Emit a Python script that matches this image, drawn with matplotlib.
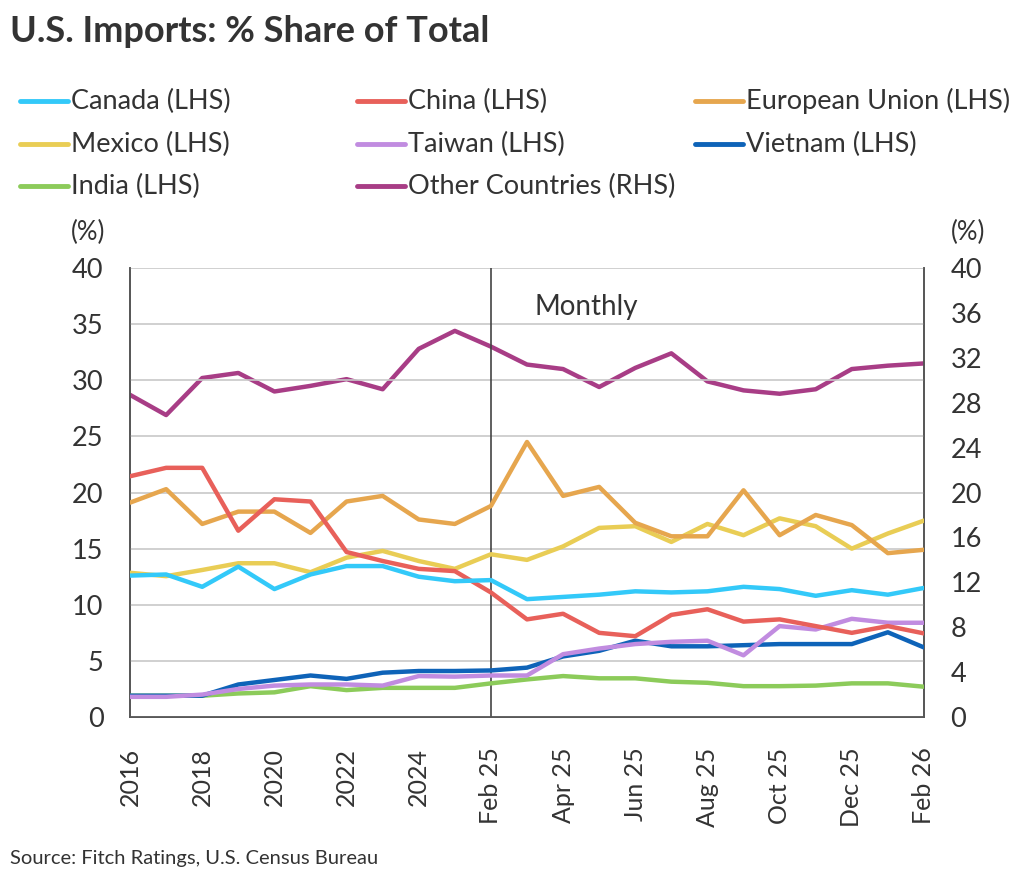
import numpy as np
import matplotlib.pyplot as plt
from matplotlib.lines import Line2D

plt.rcParams['font.family'] = ['Lato', 'DejaVu Sans']

# categories: annual 2016-2025, then monthly Feb 25 - Feb 26
years = [str(y) for y in range(2016, 2026)]
months = ['Feb 25', 'Mar 25', 'Apr 25', 'May 25', 'Jun 25', 'Jul 25', 'Aug 25',
          'Sep 25', 'Oct 25', 'Nov 25', 'Dec 25', 'Jan 26', 'Feb 26']
categories = years + months

canada = [12.6, 12.7, 11.6, 13.4, 11.4, 12.7, 13.45, 13.45, 12.5, 12.1,
          12.2, 10.5, 10.7, 10.9, 11.2, 11.1, 11.2, 11.6, 11.4, 10.8, 11.3, 10.9, 11.5]
china = [21.45, 22.2, 22.2, 16.6, 19.4, 19.2, 14.7, 13.9, 13.2, 13.0,
         11.1, 8.7, 9.2, 7.5, 7.2, 9.1, 9.6, 8.5, 8.7, 8.1, 7.5, 8.1, 7.45]
eu = [19.1, 20.3, 17.2, 18.3, 18.3, 16.4, 19.2, 19.7, 17.6, 17.2,
      18.8, 24.5, 19.7, 20.5, 17.3, 16.1, 16.1, 20.2, 16.2, 18.0, 17.1, 14.6, 14.9]
mexico = [12.85, 12.55, 13.1, 13.7, 13.7, 12.9, 14.2, 14.8, 13.9, 13.2,
          14.5, 14.0, 15.2, 16.85, 17.0, 15.6, 17.2, 16.2, 17.7, 17.0, 15.0, 16.35, 17.5]
taiwan = [1.8, 1.8, 2.0, 2.5, 2.8, 2.9, 2.9, 2.8, 3.65, 3.6,
          3.7, 3.7, 5.6, 6.1, 6.5, 6.7, 6.8, 5.5, 8.1, 7.8, 8.75, 8.4, 8.4]
vietnam = [1.9, 1.9, 1.9, 2.9, 3.3, 3.7, 3.4, 3.95, 4.1, 4.1,
           4.15, 4.4, 5.4, 5.9, 6.8, 6.3, 6.3, 6.4, 6.5, 6.5, 6.5, 7.55, 6.2]
india = [1.9, 1.9, 1.9, 2.1, 2.2, 2.75, 2.4, 2.6, 2.6, 2.6,
         3.0, 3.35, 3.65, 3.45, 3.45, 3.15, 3.05, 2.75, 2.75, 2.8, 3.0, 3.0, 2.7]
other = [28.7, 26.9, 30.2, 30.65, 29.0, 29.5, 30.1, 29.2, 32.8, 34.4,
         33.0, 31.4, 31.0, 29.4, 31.1, 32.4, 29.9, 29.1, 28.8, 29.2, 31.0, 31.3, 31.5]

lhs_series = [
    ('Canada (LHS)', canada, '#33C9F9'),
    ('China (LHS)', china, '#E8605A'),
    ('European Union (LHS)', eu, '#E6A64E'),
    ('Mexico (LHS)', mexico, '#E9CD55'),
    ('Taiwan (LHS)', taiwan, '#C18CE0'),
    ('Vietnam (LHS)', vietnam, '#0E63B8'),
    ('India (LHS)', india, '#8CCB5A'),
]
rhs_series = ('Other Countries (RHS)', other, '#A83D86')

txt = '#333333'
x = np.arange(len(categories))

fig = plt.figure(figsize=(10.24, 8.86), dpi=100)
ax = fig.add_axes([0.127, 0.1907, 0.7753, 0.5068])
ax2 = ax.twinx()

ax.set_zorder(ax2.get_zorder() + 1)
ax.patch.set_visible(False)

for name, vals, col in lhs_series[::-1]:
    ax.plot(x, vals, color=col, lw=3.2, solid_capstyle='round', zorder=3)
ax2.plot(x, other, color=rhs_series[2], lw=3.2, solid_capstyle='round')

ax.set_xlim(0, len(categories) - 1)
ax.set_ylim(0, 40)
ax2.set_ylim(0, 40)
ax.set_yticks(np.arange(0, 41, 5))
ax2.set_yticks(np.arange(0, 41, 4))
ax.set_xticks(x[::2])
ax.set_xticklabels(categories[::2], rotation=90)

ax.grid(axis='y', color='#C8C8C8', lw=1.2)
ax.set_axisbelow(True)
ax.tick_params(axis='y', length=0, labelsize=19.5, colors=txt, pad=19)
ax.tick_params(axis='x', length=0, labelsize=18, colors=txt, pad=22)
ax2.tick_params(axis='y', length=0, labelsize=19.5, colors=txt, pad=19)

for a in (ax, ax2):
    a.spines['top'].set_visible(False)
    for s in ('left', 'right', 'bottom'):
        a.spines[s].set_color('#555555')
        a.spines[s].set_linewidth(1.2)

# divider between annual and monthly data
ax.axvline(categories.index('Feb 25'), color='#444444', lw=1.2, zorder=2)
ax.text(11.2, 36.5, 'Monthly', fontsize=20, color=txt, va='center', ha='left')

ax.text(-0.053, 1.08, '(%)', transform=ax.transAxes, fontsize=18.5, color=txt, ha='center', va='center')
ax2.text(1.056, 1.08, '(%)', transform=ax.transAxes, fontsize=18.5, color=txt, ha='center', va='center')

fig.text(0.01, 0.965, 'U.S. Imports: % Share of Total', fontsize=26, fontweight='bold',
         color=txt, ha='left', va='center')
fig.text(0.01, 0.031, 'Source: Fitch Ratings, U.S. Census Bureau', fontsize=14.5,
         color=txt, ha='left', va='center')

# legend laid out in rows of three
legend_items = [(n, c) for n, v, c in lhs_series] + [(rhs_series[0], rhs_series[2])]
col_x = [20, 357, 695]
row_y = [101, 144, 186]
W, H = 1024, 886
for i, (name, col) in enumerate(legend_items):
    cx = col_x[i % 3]
    ry = row_y[i // 3]
    fig.add_artist(Line2D([cx / W, (cx + 48) / W], [1 - ry / H, 1 - ry / H],
                          color=col, lw=3.5, solid_capstyle='round'))
    fig.text((cx + 51) / W, 1 - ry / H, name, fontsize=19.5, color=txt, ha='left', va='center')

fig.savefig('out.png', dpi=100, facecolor='white')
